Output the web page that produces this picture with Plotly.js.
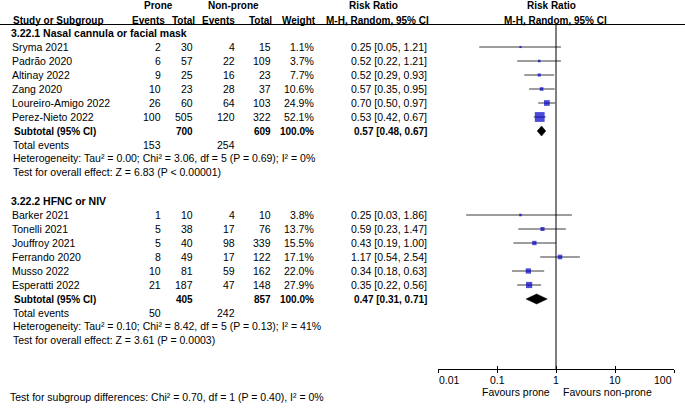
<!DOCTYPE html>
<html>
<head>
<meta charset="utf-8">
<script src="https://cdn.plot.ly/plotly-3.0.1.min.js"></script>
<style>html,body{margin:0;padding:0;background:#fff;}#chart{width:685px;height:408px;}</style>
</head>
<body>
<div id="chart"></div>
<script>
// ---------- DATA ----------
const group1Title = "3.22.1 Nasal cannula or facial mask";
const studies1 = ["Sryma 2021", "Padrão 2020", "Altinay 2022", "Zang 2020", "Loureiro-Amigo 2022", "Perez-Nieto 2022"];
const proneEvents1 = [2, 6, 9, 10, 26, 100];
const proneTotal1 = [30, 57, 25, 23, 60, 505];
const nonEvents1 = [4, 22, 16, 28, 64, 120];
const nonTotal1 = [15, 109, 23, 37, 103, 322];
const weight1 = [1.1, 3.7, 7.7, 10.6, 24.9, 52.1];
const rr1 = [0.25, 0.52, 0.52, 0.57, 0.70, 0.53];
const lo1 = [0.05, 0.22, 0.29, 0.35, 0.50, 0.42];
const hi1 = [1.21, 1.21, 0.93, 0.95, 0.97, 0.67];
const sub1 = {proneTotal: 700, nonTotal: 609, weight: 100.0, rr: 0.57, lo: 0.48, hi: 0.67, proneEv: 153, nonEv: 254};
const het1 = "Heterogeneity: Tau² = 0.00; Chi² = 3.06, df = 5 (P = 0.69); I² = 0%";
const eff1 = "Test for overall effect: Z = 6.83 (P < 0.00001)";

const group2Title = "3.22.2 HFNC or NIV";
const studies2 = ["Barker 2021", "Tonelli 2021", "Jouffroy 2021", "Ferrando 2020", "Musso 2022", "Esperatti 2022"];
const proneEvents2 = [1, 5, 5, 8, 10, 21];
const proneTotal2 = [10, 38, 40, 49, 81, 187];
const nonEvents2 = [4, 17, 98, 17, 59, 47];
const nonTotal2 = [10, 76, 339, 122, 162, 148];
const weight2 = [3.8, 13.7, 15.5, 17.1, 22.0, 27.9];
const rr2 = [0.25, 0.59, 0.43, 1.17, 0.34, 0.35];
const lo2 = [0.03, 0.23, 0.19, 0.54, 0.18, 0.22];
const hi2 = [1.86, 1.47, 1.00, 2.54, 0.63, 0.56];
const sub2 = {proneTotal: 405, nonTotal: 857, weight: 100.0, rr: 0.47, lo: 0.31, hi: 0.71, proneEv: 50, nonEv: 242};
const het2 = "Heterogeneity: Tau² = 0.10; Chi² = 8.42, df = 5 (P = 0.13); I² = 41%";
const eff2 = "Test for overall effect: Z = 3.61 (P = 0.0003)";

const subgroupTest = "Test for subgroup differences: Chi² = 0.70, df = 1 (P = 0.40), I² = 0%";
const tickVals = [0.01, 0.1, 1, 10, 100];
const tickLabels = ["0.01", "0.1", "1", "10", "100"];
const favLeft = "Favours prone";
const favRight = "Favours non-prone";

// ---------- LAYOUT HELPERS ----------
const W = 685, H = 408;
const FONT = "Liberation Sans, Arial, sans-serif";
const ROW = 14;
const g1Top = 33;           // group 1 title row
const g2Top = 201;          // group 2 title row
const axisY = 369;
const headerLineY = 24.5;
const col = {name: 10, other: 11, pEv: 163, pTot: 195, nEv: 237, nTot: 273, wt: 316, ci: 429};

const ann = [];
function txt(x, y, s, anchor, bold, size) {
  ann.push({xref: 'paper', yref: 'paper', x: x / W, y: 1 - y / H, text: bold ? '<b>' + s + '</b>' : s,
    showarrow: false, xanchor: anchor, yanchor: 'middle',
    font: {family: FONT, size: size || (bold ? 10 : 10.5), color: '#000'}});
}
const fmt2 = v => v.toFixed(2);
const ciStr = (r, l, h) => fmt2(r) + ' [' + fmt2(l) + ', ' + fmt2(h) + ']';

// header
txt(158.5, 6, 'Prone', 'center', true);
txt(233, 6, 'Non-prone', 'center', true);
txt(373, 6, 'Risk Ratio', 'center', true);
txt(551, 6, 'Risk Ratio', 'center', true);
txt(11, 20, 'Study or Subgroup', 'left', true);
txt(148.5, 20, 'Events', 'center', true);
txt(183.5, 20, 'Total', 'center', true);
txt(218.5, 20, 'Events', 'center', true);
txt(260.5, 20, 'Total', 'center', true);
txt(298.5, 20, 'Weight', 'center', true);
txt(377.5, 20, 'M-H, Random, 95% CI', 'center', true);
txt(555.5, 20, 'M-H, Random, 95% CI', 'center', true);

const traces = [];
function group(top, title, names, pe, pt, ne, nt, wt, rr, lo, hi, sub, het, eff) {
  txt(9, top, title, 'left', true, 10.5);
  const ys = names.map((_, i) => top + ROW * (i + 1));
  names.forEach((n, i) => {
    const y = ys[i];
    txt(col.name, y, n, 'left');
    txt(col.pEv, y, String(pe[i]), 'right');
    txt(col.pTot, y, String(pt[i]), 'right');
    txt(col.nEv, y, String(ne[i]), 'right');
    txt(col.nTot, y, String(nt[i]), 'right');
    txt(col.wt, y, wt[i].toFixed(1) + '%', 'right');
    txt(col.ci, y, ciStr(rr[i], lo[i], hi[i]), 'right');
  });
  const ySub = top + ROW * (names.length + 1);
  txt(12, ySub, 'Subtotal (95% CI)', 'left', true);
  txt(col.pTot, ySub, String(sub.proneTotal), 'right', true);
  txt(col.nTot, ySub, String(sub.nonTotal), 'right', true);
  txt(col.wt, ySub, sub.weight.toFixed(1) + '%', 'right', true);
  txt(col.ci, ySub, ciStr(sub.rr, sub.lo, sub.hi), 'right', true);
  const yTot = ySub + ROW - 0.5;
  txt(col.other, yTot, 'Total events', 'left');
  txt(col.pEv, yTot, String(sub.proneEv), 'right');
  txt(col.nEv, yTot, String(sub.nonEv), 'right');
  txt(col.other, yTot + ROW - 0.5, het, 'left');
  txt(col.other, yTot + 2 * ROW - 1, eff, 'left');

  // CI lines
  const lx = [], ly = [];
  names.forEach((_, i) => { lx.push(lo[i], hi[i], null); ly.push(ys[i], ys[i], null); });
  traces.push({type: 'scatter', mode: 'lines', x: lx, y: ly, xaxis: 'x', yaxis: 'y',
    line: {color: '#3a3a3a', width: 1}, hoverinfo: 'skip', showlegend: false});
  // squares
  traces.push({type: 'scatter', mode: 'markers', x: rr, y: ys, xaxis: 'x', yaxis: 'y',
    marker: {symbol: 'square', color: '#0000c8', size: wt.map(w => 2 + 0.15 * w), line: {width: 0}},
    hoverinfo: 'skip', showlegend: false});
  // diamond
  const h = 5;
  traces.push({type: 'scatter', mode: 'lines', fill: 'toself', fillcolor: '#000',
    x: [sub.lo, sub.rr, sub.hi, sub.rr, sub.lo], y: [ySub, ySub - h, ySub, ySub + h, ySub],
    xaxis: 'x', yaxis: 'y', line: {color: '#000', width: 0.5}, hoverinfo: 'skip', showlegend: false});
}
group(g1Top, group1Title, studies1, proneEvents1, proneTotal1, nonEvents1, nonTotal1, weight1, rr1, lo1, hi1, sub1, het1, eff1);
group(g2Top, group2Title, studies2, proneEvents2, proneTotal2, nonEvents2, nonTotal2, weight2, rr2, lo2, hi2, sub2, het2, eff2);

// line of no effect
traces.push({type: 'scatter', mode: 'lines', x: [1, 1], y: [headerLineY, axisY], xaxis: 'x', yaxis: 'y',
  line: {color: '#000', width: 1}, hoverinfo: 'skip', showlegend: false});

// tick labels & favours
tickVals.forEach((v, i) => {
  const anchor = i === 0 ? 'left' : (i === tickVals.length - 1 ? 'right' : 'center');
  ann.push({xref: 'x', yref: 'paper', x: Math.log10(v), y: 1 - 380 / H, text: tickLabels[i], showarrow: false,
    xanchor: anchor, yanchor: 'middle', xshift: i === 0 ? -1 : 0, font: {family: FONT, size: 10.5, color: '#000'}});
});
ann.push({xref: 'x', yref: 'paper', x: 0, xshift: -4, y: 1 - 392 / H, text: favLeft, showarrow: false,
  xanchor: 'right', yanchor: 'middle', font: {family: FONT, size: 10.5, color: '#000'}});
ann.push({xref: 'x', yref: 'paper', x: 0, xshift: 5, y: 1 - 392 / H, text: favRight, showarrow: false,
  xanchor: 'left', yanchor: 'middle', font: {family: FONT, size: 10.5, color: '#000'}});
txt(8, 397, subgroupTest, 'left');

const xd = [438 / W, 674 / W];
const layout = {
  width: W, height: H, margin: {l: 0, r: 0, t: 0, b: 0}, paper_bgcolor: '#fff', plot_bgcolor: 'rgba(0,0,0,0)',
  showlegend: false,
  xaxis: {type: 'log', range: [-2, 2], domain: xd, anchor: 'free', position: (H - axisY) / H,
    showline: true, linecolor: '#000', linewidth: 1, ticks: 'outside', ticklen: 3, tickcolor: '#000', tickwidth: 1,
    tickvals: tickVals, showticklabels: false, showgrid: false, zeroline: false, fixedrange: true},
  xaxis3: {type: 'log', range: [-2, 2], domain: xd, anchor: 'free', position: (H - axisY) / H, overlaying: 'x',
    showline: false, ticks: 'inside', ticklen: 3, tickcolor: '#000', tickwidth: 1,
    tickvals: tickVals, showticklabels: false, showgrid: false, zeroline: false, fixedrange: true},
  yaxis: {range: [H, 0], domain: [0, 1], visible: false, fixedrange: true},
  shapes: [{type: 'line', xref: 'paper', yref: 'paper', x0: 0, x1: 1, y0: 1 - headerLineY / H, y1: 1 - headerLineY / H,
    line: {color: '#000', width: 1}}],
  annotations: ann
};
// dummy trace to instantiate xaxis3
traces.push({type: 'scatter', mode: 'markers', x: [1], y: [-100], xaxis: 'x3', yaxis: 'y', marker: {opacity: 0}, hoverinfo: 'skip', showlegend: false});

Plotly.newPlot('chart', traces, layout, {displayModeBar: false, staticPlot: true});
</script>
</body>
</html>
